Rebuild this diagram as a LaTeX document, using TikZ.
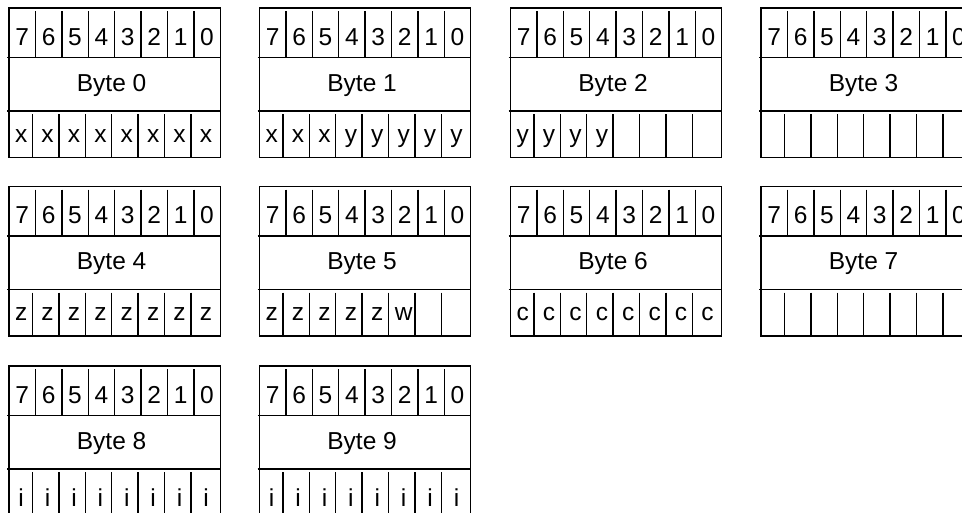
\documentclass[tikz,border=0pt]{standalone}
\usepackage{fontspec}
\setmainfont{Liberation Sans}
\tikzset{bit/.style={anchor=base, inner sep=0pt, font=\fontsize{24.5}{29}\selectfont}}
\newcommand{\cw}{26.4}
\newcommand{\dbase}{134}
% #1 left, #2 top, #3 byte number, #4 bits in the bottom row
\newcommand{\bytebox}[4]{%
  \draw (#1,#2) rectangle ({#1+8*\cw},{#2+149.5});
  \draw ({#1-2},{#2+49.5}) -- ({#1+8*\cw},{#2+49.5});
  \draw ({#1-2},{#2+103}) -- ({#1+8*\cw},{#2+103});
  \foreach \i in {1,...,7}{%
    \draw ({#1+\i*\cw},{#2+3}) -- ({#1+\i*\cw},{#2+49.5});
    \draw ({#1+\i*\cw-3},{#2+106}) -- ({#1+\i*\cw-3},{#2+149.5});}
  \foreach \i in {0,...,7}{%
    \node[bit] (b#3-t\i) at ({#1+(\i+0.5)*\cw},{#2+37}) {\the\numexpr7-\i\relax};}
  \node[bit] (b#3-name) at ({#1+4*\cw-3},{#2+83}) {Byte #3};
  \if\relax\detokenize{#4}\relax\else
  \foreach \v [count=\i from 0] in {#4}{%
    \node[bit] (b#3-d\i) at ({#1+(\i+0.5)*\cw-1},{#2+\dbase}) {\v};}\fi}
\begin{document}
\begin{tikzpicture}[x=1pt, y=-1pt, line width=1.4pt]
\path[use as bounding box, clip] (0,0) rectangle (962,512);
% first row
\bytebox{9}{8}{0}{x,x,x,x,x,x,x,x}
\bytebox{259.5}{8}{1}{x,x,x,y,y,y,y,y}
\bytebox{510.5}{8}{2}{y,y,y,y}
\bytebox{761}{8}{3}{}
% second row
\bytebox{9}{186.5}{4}{z,z,z,z,z,z,z,z}
\bytebox{259.5}{186.5}{5}{z,z,z,z,z,w}
\bytebox{510.5}{186.5}{6}{c,c,c,c,c,c,c,c}
\bytebox{761}{186.5}{7}{}
% third row
\renewcommand{\dbase}{140}
\bytebox{9}{366}{8}{i,i,i,i,i,i,i,i}
\bytebox{259.5}{366}{9}{i,i,i,i,i,i,i,i}
\end{tikzpicture}
\end{document}
